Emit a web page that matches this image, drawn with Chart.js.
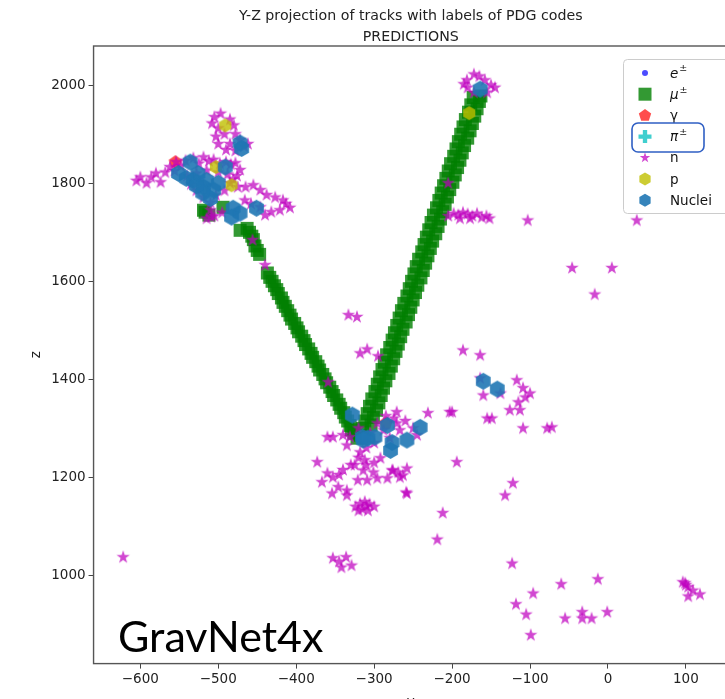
<!DOCTYPE html>
<html>
<head>
<meta charset="utf-8">
<script src="https://cdn.jsdelivr.net/npm/chart.js@4.4.0/dist/chart.umd.min.js"></script>
<style>
  html, body { margin: 0; padding: 0; background: #fff; overflow: hidden; }
  #wrap { width: 725px; height: 699px; overflow: hidden; position: relative; }
  #box { width: 760px; height: 715px; position: absolute; left: 0; top: 0; }
</style>
</head>
<body>
<div id="wrap"><div id="box"><canvas id="myChart"></canvas></div></div>
<script>
// particle classes, in legend order
var categories = ['e±', 'μ±', 'γ', 'π±', 'n', 'p', 'Nuclei'];
var xTicks = [-600, -500, -400, -300, -200, -100, 0, 100];
var zTicks = [1000, 1200, 1400, 1600, 1800, 2000];
var titleLines = ['Y-Z projection of tracks with labels of PDG codes', 'PREDICTIONS'];

// hits as [y, z]
var electrons = [];
var muons = [
  [-463, 1708], [-460, 1700], [-457, 1692], [-455, 1685],
  [-453, 1672], [-450, 1663], [-447, 1655],
  [-437, 1617], [-434, 1608], [-431, 1600], [-428, 1591],
  [-425, 1583], [-423, 1575], [-419, 1566], [-417, 1557], [-414, 1549], [-411, 1540], [-408, 1531],
  [-406, 1523], [-402, 1514], [-399, 1505], [-397, 1497], [-393, 1488], [-390, 1479], [-388, 1471],
  [-384, 1462], [-381, 1453], [-379, 1445], [-375, 1436], [-372, 1427], [-370, 1419], [-366, 1410],
  [-363, 1401], [-361, 1393], [-357, 1384], [-354, 1375], [-352, 1367], [-348, 1358], [-345, 1349],
  [-343, 1341], [-339, 1332], [-337, 1323], [-334, 1315], [-331, 1306], [-329, 1297], [-326, 1290],
  [-315, 1300], [-312, 1315], [-309, 1330], [-306, 1345], [-303, 1360], [-299, 1375], [-296, 1390],
  [-293, 1405], [-290, 1420], [-287, 1435], [-284, 1450], [-280, 1465], [-277, 1480], [-274, 1495],
  [-271, 1510], [-268, 1525], [-265, 1540], [-262, 1555], [-258, 1570], [-255, 1585], [-252, 1600],
  [-249, 1615], [-246, 1630], [-243, 1645], [-239, 1660], [-236, 1675], [-233, 1690], [-230, 1705],
  [-227, 1720], [-224, 1735], [-220, 1750], [-217, 1765], [-214, 1780], [-211, 1795], [-208, 1810],
  [-205, 1825], [-202, 1840], [-198, 1855], [-195, 1870], [-192, 1885], [-189, 1900], [-186, 1915],
  [-183, 1930], [-179, 1945], [-176, 1960], [-173, 1975],
  [-304, 1307], [-301, 1322], [-297, 1337], [-294, 1352], [-291, 1367], [-288, 1382], [-285, 1397],
  [-281, 1412], [-278, 1427], [-275, 1442], [-272, 1457], [-269, 1472], [-266, 1487], [-263, 1502],
  [-259, 1517], [-256, 1532], [-253, 1547], [-250, 1562], [-247, 1577], [-244, 1592], [-240, 1607],
  [-237, 1622], [-234, 1637], [-231, 1652], [-228, 1667], [-225, 1682], [-221, 1697], [-218, 1712],
  [-215, 1727], [-212, 1742], [-209, 1757], [-206, 1772], [-203, 1787], [-199, 1802], [-196, 1817],
  [-193, 1832], [-190, 1847], [-187, 1862], [-184, 1877], [-180, 1892], [-177, 1907], [-174, 1922],
  [-171, 1937], [-168, 1952], [-165, 1967], [-163, 1978],
  [-517, 1741], [-494, 1751], [-512, 1735], [-472, 1704], [-519, 1745], [-322, 1280], [-318, 1286]
];
var photons = [[-555, 1843], [-285, 1310]];
var pions = [];
var neutrons = [
  [-605, 1805], [-600, 1812], [-592, 1800], [-586, 1812], [-580, 1820], [-574, 1802], [-568, 1822],
  [-562, 1833], [-556, 1825], [-554, 1843], [-548, 1835], [-542, 1846], [-532, 1851], [-525, 1840],
  [-519, 1853], [-512, 1845], [-506, 1848], [-498, 1840], [-490, 1843], [-484, 1838], [-478, 1841],
  [-472, 1827], [-476, 1815], [-481, 1808], [-488, 1818], [-500, 1822], [-515, 1826], [-528, 1820],
  [-540, 1815], [-535, 1798], [-528, 1785], [-519, 1771], [-510, 1760], [-503, 1775], [-492, 1785],
  [-485, 1800], [-475, 1792], [-465, 1792], [-455, 1796], [-446, 1786], [-438, 1776], [-427, 1771],
  [-417, 1765], [-408, 1750], [-413, 1758], [-421, 1745], [-432, 1741], [-440, 1735], [-446, 1751],
  [-458, 1758], [-466, 1765], [-510, 1745], [-505, 1733], [-515, 1728], [-495, 1740], [-509, 1731],
  [-505, 1935], [-497, 1942], [-485, 1930], [-480, 1918], [-500, 1912], [-492, 1900], [-503, 1895],
  [-478, 1900], [-472, 1888], [-485, 1880], [-500, 1880], [-467, 1875], [-478, 1866], [-490, 1868],
  [-508, 1922], [-462, 1880],
  [-456, 1684], [-440, 1633], [-359, 1394],
  [-333, 1531], [-322, 1527], [-318, 1453], [-309, 1461], [-295, 1447],
  [-271, 1333], [-231, 1331], [-203, 1333], [-360, 1282], [-353, 1282], [-340, 1286], [-335, 1265],
  [-331, 1282], [-318, 1251], [-312, 1235], [-314, 1214], [-301, 1210], [-292, 1239], [-321, 1194],
  [-309, 1194], [-296, 1198], [-283, 1198], [-277, 1214], [-269, 1210], [-258, 1218], [-267, 1200],
  [-373, 1231], [-360, 1208], [-367, 1190], [-353, 1200], [-354, 1167], [-346, 1180], [-335, 1163],
  [-335, 1173], [-258, 1167], [-271, 1310], [-267, 1296], [-288, 1296], [-245, 1286], [-296, 1310],
  [-320, 1300], [-305, 1290], [-280, 1280], [-300, 1270], [-310, 1260], [-320, 1240], [-325, 1225],
  [-310, 1225], [-300, 1230], [-330, 1225], [-340, 1215], [-345, 1205], [-250, 1300], [-260, 1315],
  [-275, 1320], [-285, 1325], [-263, 1204], [-259, 1169], [-276, 1214],
  [-324, 1140], [-318, 1146], [-312, 1150], [-306, 1145], [-300, 1140], [-315, 1135], [-308, 1132],
  [-320, 1132], [-310, 1141],
  [-622, 1037], [-353, 1035], [-336, 1037], [-342, 1016], [-329, 1020], [-345, 1028],
  [-205, 1800], [-181, 2010], [-172, 2022], [-165, 2018], [-158, 2010], [-150, 2000], [-145, 1995],
  [-155, 1985], [-172, 1985], [-180, 1995], [-185, 2002],
  [-205, 1733], [-198, 1738], [-192, 1735], [-186, 1740], [-180, 1737], [-174, 1733], [-168, 1738],
  [-162, 1730], [-156, 1733], [-152, 1728], [-190, 1728], [-177, 1728], [-103, 1724], [37, 1724],
  [-46, 1627], [5, 1627], [-17, 1573], [-186, 1459], [-164, 1449],
  [-164, 1402], [-160, 1367], [-138, 1371], [-117, 1398], [-109, 1382], [-100, 1371], [-106, 1363],
  [-115, 1353], [-126, 1337], [-113, 1337], [-155, 1320], [-149, 1320], [-109, 1300], [-78, 1300],
  [-72, 1302], [-200, 1333], [-194, 1231], [-122, 1188], [-132, 1163], [-212, 1127], [-219, 1073],
  [-123, 1024], [-96, 963], [-118, 941], [-105, 920], [-99, 878], [-60, 982], [-13, 992],
  [-55, 912], [-33, 925], [-33, 912], [-21, 912], [-1, 925],
  [99, 984], [103, 976], [109, 969], [103, 957], [118, 961], [96, 986], [100, 980]
];
var protons = [[-491, 1918], [-503, 1833], [-483, 1796], [-178, 1943]];
var nuclei = [
  [-536, 1843], [-551, 1820], [-532, 1806], [-515, 1806], [-519, 1792], [-506, 1786], [-510, 1769],
  [-491, 1833], [-481, 1749], [-472, 1739], [-451, 1749], [-483, 1731], [-472, 1882], [-470, 1871],
  [-526, 1820], [-541, 1810], [-520, 1780], [-500, 1800], [-528, 1795],
  [-328, 1327], [-315, 1282], [-308, 1280], [-299, 1282], [-283, 1306], [-277, 1271], [-279, 1255],
  [-258, 1276], [-241, 1302], [-314, 1276],
  [-160, 1396], [-142, 1380], [-164, 1992]
];

var series = [electrons, muons, photons, pions, neutrons, protons, nuclei];

// marker look per class: shape, size in px (plot / legend), fill
var markers = [
  { shape: 'circle',   size: 6,  legend: 6,  color: 'rgba(0,0,255,0.7)' },
  { shape: 'square',   size: 13, legend: 13, color: 'rgba(0,128,0,0.8)' },
  { shape: 'pentagon', size: 14, legend: 13, color: 'rgba(255,0,0,0.7)' },
  { shape: 'plus',     size: 13, legend: 13, color: 'rgba(0,191,191,0.75)' },
  { shape: 'star',     size: 14, legend: 11, color: 'rgba(191,0,191,0.72)' },
  { shape: 'hexagon',  size: 14, legend: 13, color: 'rgba(191,191,0,0.8)' },
  { shape: 'hexagon',  size: 17, legend: 13, color: 'rgba(31,119,180,0.9)' }
];

function drawShape(g, shape, cx, cy, size, color) {
  var r = size / 2, i, a, rr;
  g.fillStyle = color;
  g.beginPath();
  if (shape === 'circle') {
    g.arc(cx, cy, r, 0, Math.PI * 2);
  } else if (shape === 'square') {
    g.rect(cx - r, cy - r, size, size);
  } else if (shape === 'plus') {
    var t = size / 3;
    g.rect(cx - t / 2, cy - r, t, size);
    g.rect(cx - r, cy - t / 2, size, t);
  } else {
    var n = shape === 'star' ? 10 : (shape === 'pentagon' ? 5 : 6);
    for (i = 0; i < n; i++) {
      rr = (shape === 'star' && i % 2) ? r * 0.382 : r;
      a = -Math.PI / 2 + i * 2 * Math.PI / n;
      if (i === 0) g.moveTo(cx + rr * Math.cos(a), cy + rr * Math.sin(a));
      else g.lineTo(cx + rr * Math.cos(a), cy + rr * Math.sin(a));
    }
    g.closePath();
  }
  g.fill();
}

function markerImage(m) {
  var c = document.createElement('canvas');
  c.width = c.height = Math.ceil(m.size) + 4;
  drawShape(c.getContext('2d'), m.shape, c.width / 2, c.height / 2, m.size, m.color);
  return c;
}

function fmt(v) {
  return v < 0 ? '\u2212' + Math.abs(v) : String(v);
}

var FONT = 'DejaVu Sans';

var datasets = categories.map(function (label, i) {
  return {
    label: label,
    data: series[i].map(function (p) { return { x: p[0], y: p[1] }; }),
    pointStyle: markerImage(markers[i]),
    pointRadius: 6,
    order: categories.length - i
  };
});

// title over the axes, frame, legend box and the model tag
var decor = {
  id: 'decor',
  afterDatasetsDraw: function (chart) {
    var a = chart.chartArea, ctx = chart.ctx;
    ctx.save();
    ctx.strokeStyle = '#555';
    ctx.lineWidth = 1.4;
    ctx.strokeRect(a.left, a.top, a.right - a.left, a.bottom - a.top);
    ctx.restore();
  },
  afterDraw: function (chart) {
    var a = chart.chartArea, ctx = chart.ctx;
    ctx.save();
    ctx.fillStyle = '#222';
    ctx.font = '14.2px "' + FONT + '"';
    ctx.textAlign = 'center';
    ctx.textBaseline = 'middle';
    titleLines.forEach(function (line, i) {
      ctx.fillText(line, (a.left + a.right) / 2, 16 + i * 21);
    });
    // legend
    ctx.beginPath();
    ctx.roundRect(623.5, 59.5, 120, 154, 4);
    ctx.fillStyle = 'rgba(255,255,255,0.85)';
    ctx.fill();
    ctx.strokeStyle = '#cccccc';
    ctx.lineWidth = 1;
    ctx.stroke();
    categories.forEach(function (label, i) {
      var y = 73 + i * 21.2;
      var m = markers[i];
      drawShape(ctx, m.shape, 645, y, m.legend, m.color);
      ctx.fillStyle = '#111';
      ctx.textBaseline = 'middle';
      ctx.textAlign = 'left';
      if (label.slice(-1) === '±') {
        var base = label.slice(0, -1);
        ctx.font = 'italic 13.5px "' + FONT + '"';
        ctx.fillText(base, 670, y + 1);
        var w = ctx.measureText(base).width;
        ctx.font = '9.5px "' + FONT + '"';
        ctx.fillText('±', 670 + w + 1, y - 4);
      } else {
        ctx.font = '13.5px "' + FONT + '"';
        ctx.fillText(label, 670, y + 1);
      }
    });
    // highlight on the pion entry
    ctx.beginPath();
    ctx.roundRect(632, 123, 72, 29, 6);
    ctx.strokeStyle = '#2f5fc4';
    ctx.lineWidth = 1.6;
    ctx.stroke();
    // model tag
    ctx.fillStyle = '#000';
    ctx.font = '43px Lato';
    ctx.textAlign = 'left';
    ctx.textBaseline = 'alphabetic';
    ctx.fillText('GravNet4x', 118, 652);
    ctx.restore();
  }
};

function axis(min, max, ticks, title) {
  return {
    type: 'linear',
    min: min,
    max: max,
    afterBuildTicks: function (s) {
      s.ticks = ticks.map(function (v) { return { value: v }; });
    },
    ticks: {
      callback: fmt,
      font: { family: FONT, size: 13.5 },
      color: '#222',
      padding: 3,
      maxRotation: 0,
      autoSkip: false
    },
    grid: { drawOnChartArea: false, tickLength: 5, color: '#444', tickWidth: 1 },
    border: { display: false },
    title: {
      display: true,
      text: title,
      font: { family: FONT, size: 13.5 },
      color: '#222',
      padding: { top: 4, bottom: 4 }
    }
  };
}

new Chart(document.getElementById('myChart'), {
  type: 'scatter',
  data: { datasets: datasets },
  options: {
    responsive: true,
    maintainAspectRatio: false,
    animation: false,
    events: [],
    layout: { padding: { left: 24, right: 32, top: 46, bottom: 0 } },
    plugins: {
      legend: { display: false },
      tooltip: { enabled: false },
      title: { display: false }
    },
    scales: {
      x: axis(-660, 154, xTicks, 'y'),
      y: axis(820, 2080, zTicks, 'z')
    }
  },
  plugins: [decor]
});
</script>
</body>
</html>
